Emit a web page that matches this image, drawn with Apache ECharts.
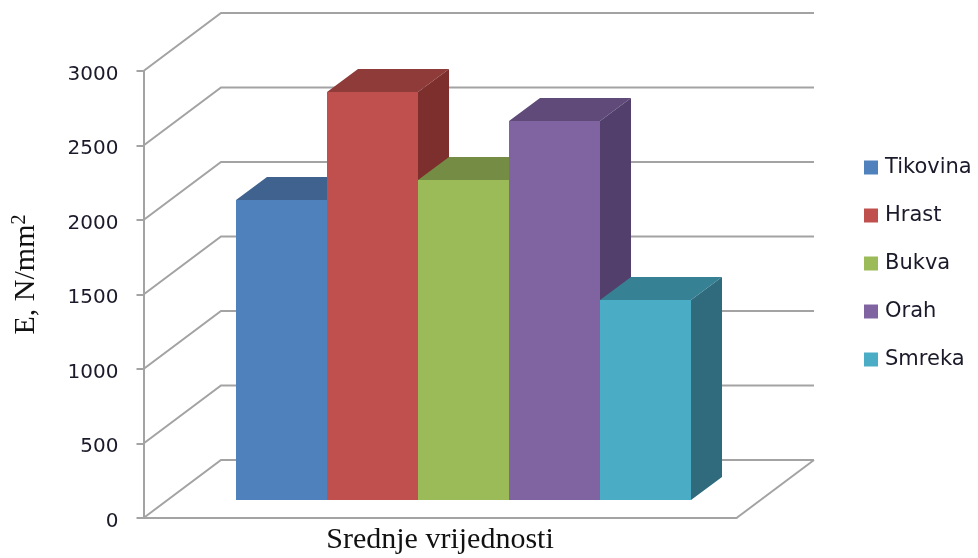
<!DOCTYPE html>
<html><head><meta charset="utf-8">
<script src="https://cdn.jsdelivr.net/npm/echarts@6/dist/echarts.min.js"></script>
<style>html,body{margin:0;padding:0;background:#fff}#c{width:978px;height:558px}</style>
</head><body><div id="c"></div>
<script>
const categories = ['Srednje vrijednosti'];
const seriesNames = ['Tikovina', 'Hrast', 'Bukva', 'Orah', 'Smreka'];
const seriesValues = [2016, 2740, 2150, 2541, 1345];
const tickValues = [0, 500, 1000, 1500, 2000, 2500, 3000];
const frontColors = ['#4f81bd', '#c0504d', '#9bbb59', '#8064a2', '#4bacc6'];
const topColors = ['#3f628e', '#8f3b39', '#748c43', '#5f4a79', '#378194'];
const sideColors = ['#345274', '#7c2f2d', '#617538', '#523f6b', '#2f6b7c'];

const GRID = '#a3a3a3';
const WALL = [77.5, -58];
const PLANE = [23.25, -18];
const DEPTH = [31, -23];
const BAR_FRAC = 91.1 / 593;

function wallItem(params, api) {
  const p = api.coord([0, api.value(0)]);
  const size = api.size([1, 0]);
  const x0 = p[0] - size[0] / 2, y = p[1];
  return { type: 'polyline', silent: true,
    shape: { points: [[x0, y], [x0 + WALL[0], y + WALL[1]], [x0 + size[0] + WALL[0], y + WALL[1]]] },
    style: { stroke: GRID, lineWidth: 2, fill: null } };
}
function floorItem(params, api) {
  const p = api.coord([0, 0]);
  const size = api.size([1, 0]);
  const x1 = p[0] + size[0] / 2;
  return { type: 'polyline', silent: true,
    shape: { points: [[x1, p[1]], [x1 + WALL[0], p[1] + WALL[1]]] },
    style: { stroke: GRID, lineWidth: 2, fill: null } };
}
function barRenderer(idx) {
  return function (params, api) {
    const base = api.coord([api.value(0), 0]);
    const top = api.coord([api.value(0), api.value(1)]);
    const band = api.size([1, 0])[0];
    const w = band * BAR_FRAC;
    const left = base[0] + PLANE[0] + (idx - seriesNames.length / 2) * w;
    const x0 = Math.round(left), x1 = Math.round(left + w);
    const yb = Math.round(base[1] + PLANE[1]), yt = Math.round(top[1] + PLANE[1]);
    const dx = DEPTH[0], dy = DEPTH[1];
    return { type: 'group', children: [
      { type: 'polygon', shape: { points: [[x1 - 1, yt], [x1, yt], [x1 + dx, yt + dy], [x1 + dx, yb + dy], [x1, yb], [x1 - 1, yb]] },
        style: { fill: sideColors[idx] } },
      { type: 'polygon', shape: { points: [[x0, yt + 1], [x0, yt], [x0 + dx, yt + dy], [x1 + dx, yt + dy], [x1, yt], [x1, yt + 1]] },
        style: { fill: topColors[idx] } },
      { type: 'rect', shape: { x: x0, y: yt, width: x1 - x0, height: yb - yt },
        style: { fill: frontColors[idx] } }
    ] };
  };
}

const series = [
  { type: 'custom', silent: true, renderItem: wallItem, data: tickValues.map(v => [v]),
    encode: { y: 0 }, clip: false, z: 1 },
  { type: 'custom', silent: true, renderItem: floorItem, data: [[0]], clip: false, z: 1 }
];
seriesNames.forEach((name, i) => series.push({
  type: 'custom', name, renderItem: barRenderer(i), clip: false, z: 2,
  itemStyle: { color: frontColors[i] },
  encode: { x: 0, y: 1 },
  data: [[0, seriesValues[i]]]
}));

const chart = echarts.init(document.getElementById('c'), null, { renderer: 'canvas' });
chart.setOption({
  animation: false,
  backgroundColor: '#fff',
  grid: { left: 143.5, top: 71, width: 593, height: 447, containLabel: false, outerBoundsMode: 'none' },
  legend: {
    orient: 'vertical', left: 864, top: 156, padding: 0, itemWidth: 14, itemHeight: 14, itemGap: 25,
    icon: 'rect', selectedMode: false, data: seriesNames,
    textStyle: { fontFamily: 'DejaVu Sans', fontSize: 21, color: '#1a1a2a', lineHeight: 23, padding: [0, 0, 0, 2] }
  },
  xAxis: {
    type: 'category', data: categories,
    axisLine: { lineStyle: { color: GRID, width: 2 } },
    axisTick: { show: false },
    axisLabel: { margin: 7, color: '#111', fontFamily: 'Liberation Serif', fontSize: 30 }
  },
  yAxis: {
    type: 'value', min: 0, max: 3000, interval: 500,
    name: '{a|E, N/mm}{b|2}', nameLocation: 'middle', nameGap: 102, nameRotate: 90,
    nameTextStyle: {
      padding: [0, 0, 0, 40],
      rich: {
        a: { fontFamily: 'Liberation Serif', fontSize: 30, color: '#111', verticalAlign: 'bottom', lineHeight: 32 },
        b: { fontFamily: 'Liberation Serif', fontSize: 20, color: '#111', verticalAlign: 'top', lineHeight: 32 }
      }
    },
    axisLine: { show: true, lineStyle: { color: GRID, width: 2 } },
    axisTick: { show: true, length: 7, lineStyle: { color: GRID, width: 2 } },
    splitLine: { show: false },
    axisLabel: {
      margin: 25,
      formatter: v => '{t|' + v + '}',
      rich: { t: { color: '#1a1a2a', fontFamily: 'DejaVu Sans', fontSize: 20, padding: [7, 0, 0, 0] } }
    }
  },
  series
});
</script></body></html>
